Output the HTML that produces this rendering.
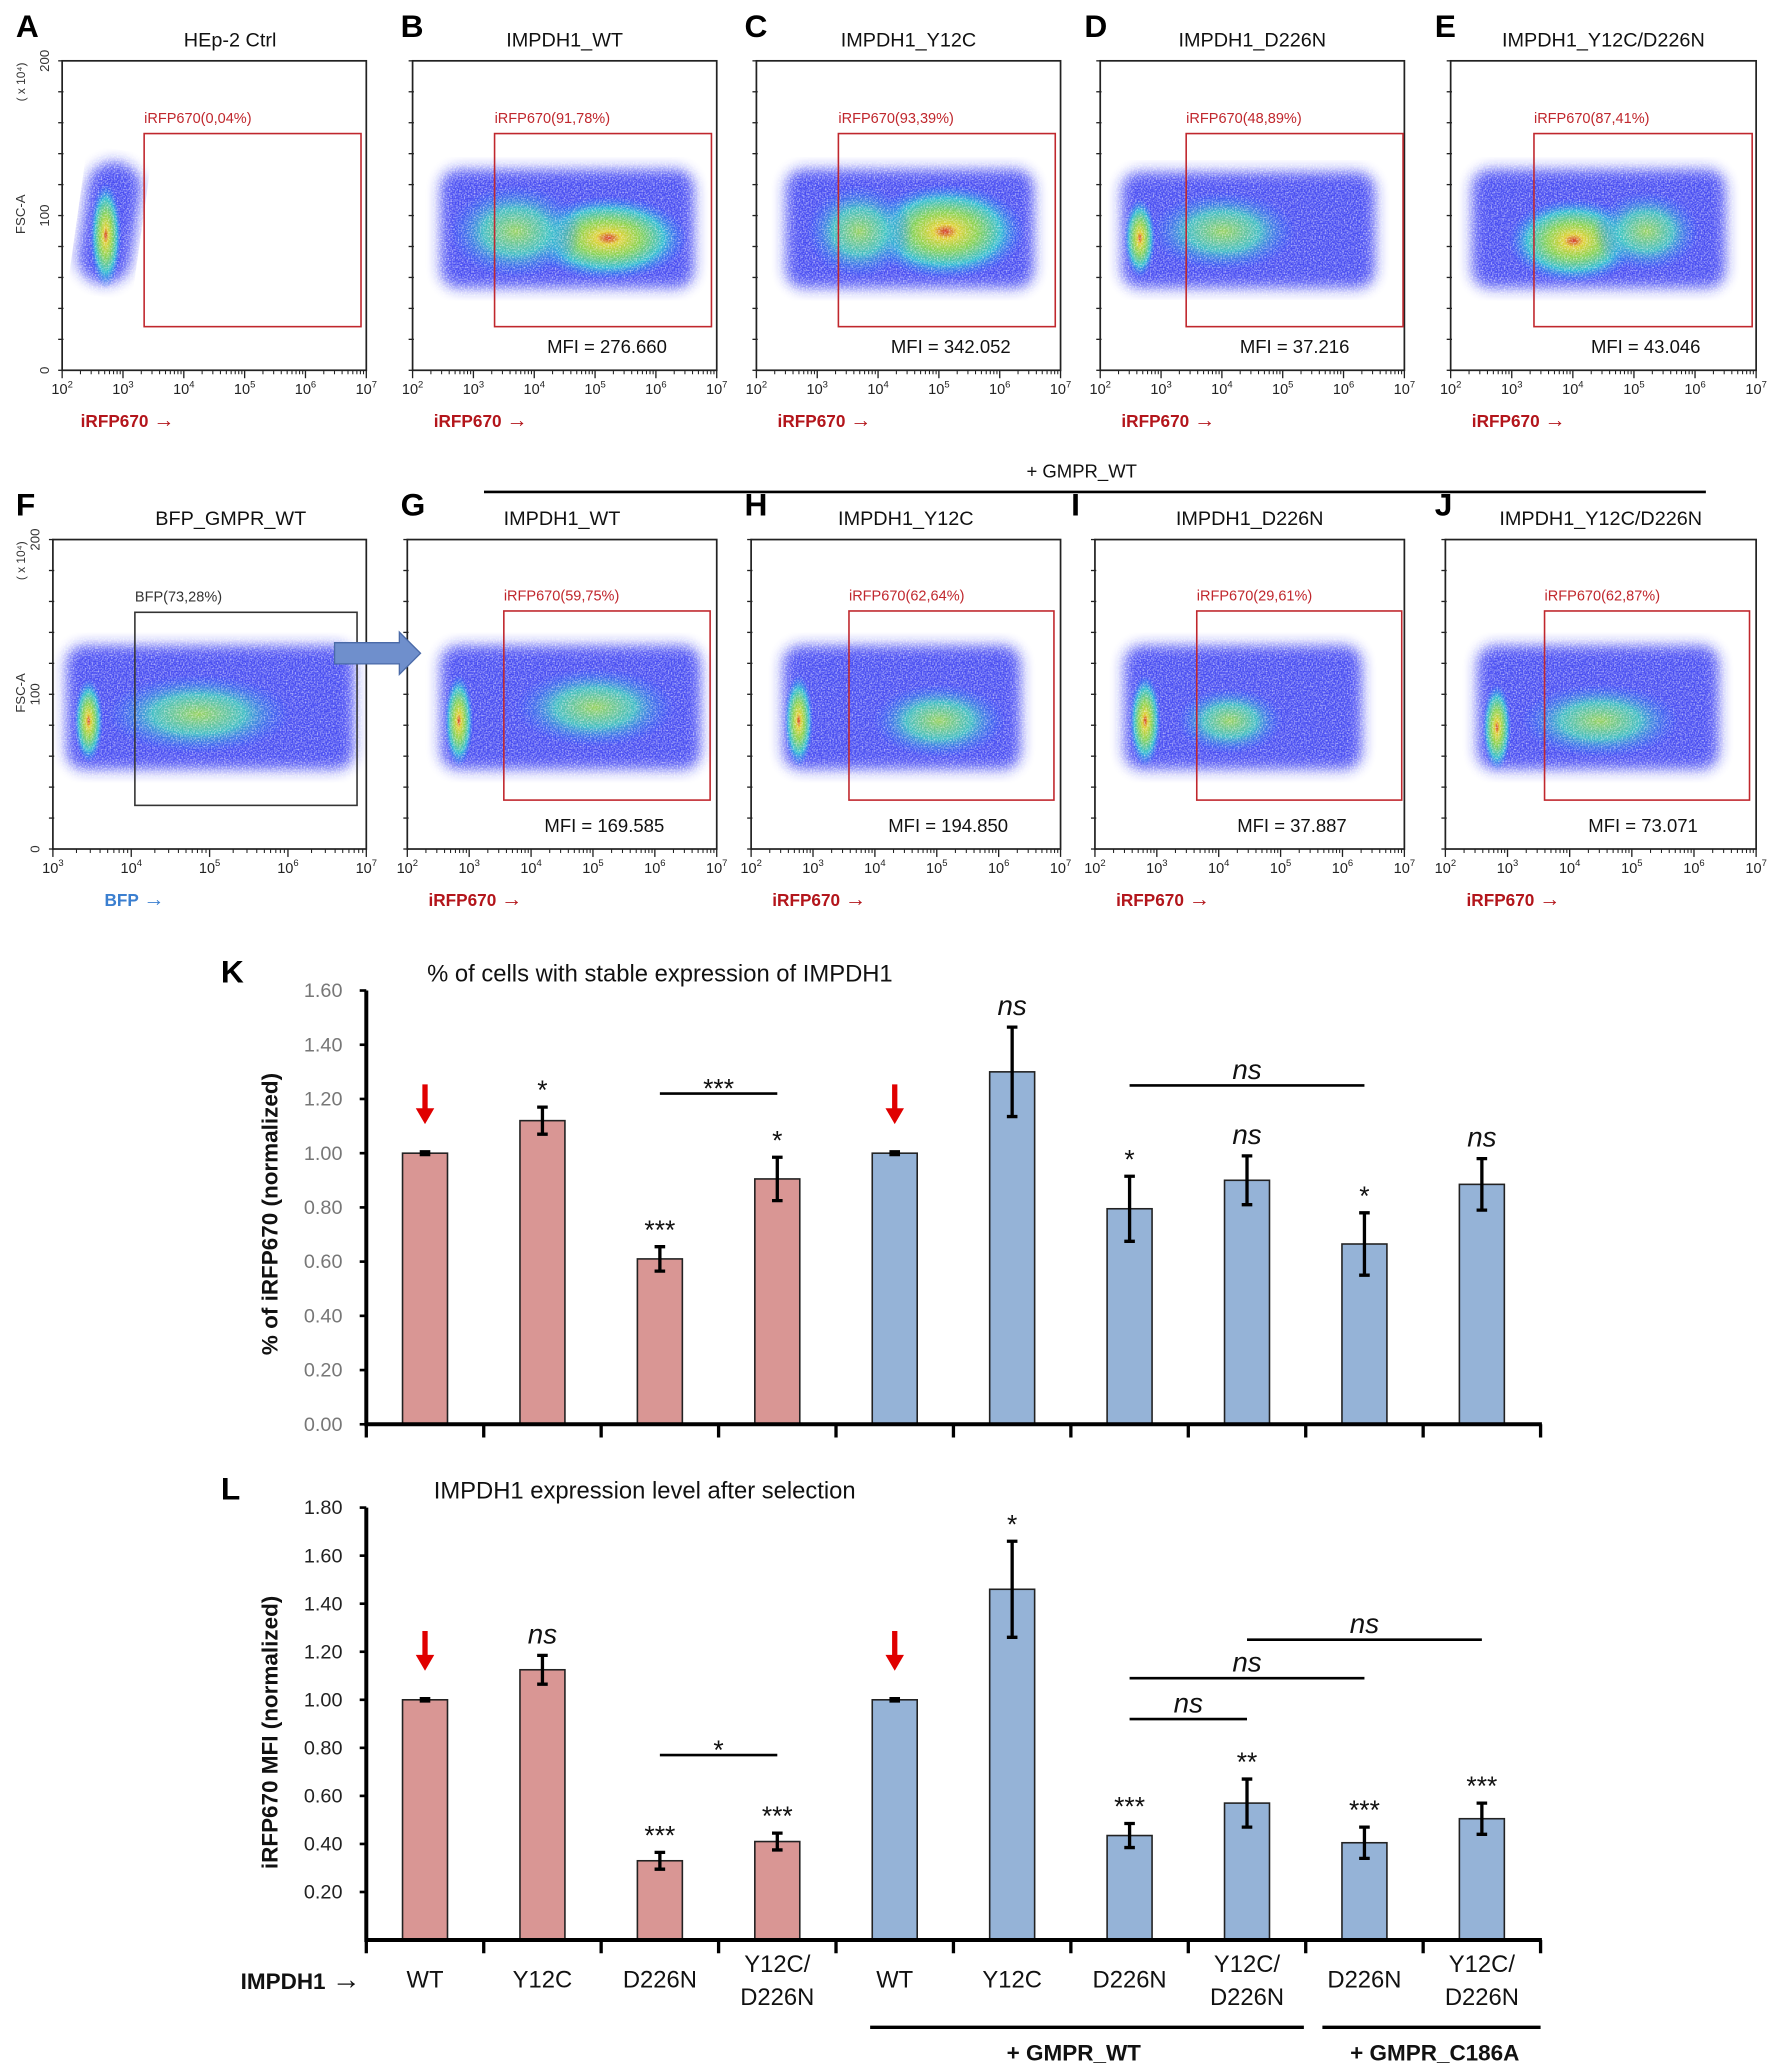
<!DOCTYPE html>
<html><head><meta charset="utf-8"><style>
html,body{margin:0;padding:0;background:#fff;}
svg{display:block;font-family:"Liberation Sans",sans-serif;}
</style></head><body>
<svg id="fig" width="1772" height="2067" viewBox="0 0 1340 1563" preserveAspectRatio="none" xmlns="http://www.w3.org/2000/svg">
<defs>
<radialGradient id="core" cx="50%" cy="50%" r="50%">
<stop offset="0" stop-color="#e03010"/><stop offset="0.15" stop-color="#f0e020"/><stop offset="0.4" stop-color="#90e040"/><stop offset="0.7" stop-color="#30c8d0"/><stop offset="1" stop-color="#2060ff" stop-opacity="0"/>
</radialGradient>
<radialGradient id="mild" cx="50%" cy="50%" r="50%">
<stop offset="0" stop-color="#a0e050"/><stop offset="0.5" stop-color="#40c8c0"/><stop offset="1" stop-color="#2060ff" stop-opacity="0"/>
</radialGradient>
<filter id="blur"><feGaussianBlur stdDeviation="5"/></filter>
<filter id="speck"><feTurbulence type="fractalNoise" baseFrequency="0.9" numOctaves="1" result="n"/><feColorMatrix in="n" type="matrix" values="0 0 0 0 1  0 0 0 0 1  0 0 0 0 1  0 0 0 -2.2 1.3" result="m"/><feComposite in="m" in2="SourceGraphic" operator="in"/></filter>
</defs>
</svg>
<script>
const NS='http://www.w3.org/2000/svg';
const svg=document.getElementById('fig');
function mk(tag,attrs,parent,text){const e=document.createElementNS(NS,tag);for(const k in attrs)e.setAttribute(k,attrs[k]);if(text!==undefined)e.textContent=text;(parent||svg).appendChild(e);return e;}

// ---------- Flow panels ----------
const panelLetters=['A','B','C','D','E','F','G','H','I','J'];
const panelTitles=['HEp-2 Ctrl','IMPDH1_WT','IMPDH1_Y12C','IMPDH1_D226N','IMPDH1_Y12C/D226N','BFP_GMPR_WT','IMPDH1_WT','IMPDH1_Y12C','IMPDH1_D226N','IMPDH1_Y12C/D226N'];
const gateLabels=['iRFP670(0,04%)','iRFP670(91,78%)','iRFP670(93,39%)','iRFP670(48,89%)','iRFP670(87,41%)','BFP(73,28%)','iRFP670(59,75%)','iRFP670(62,64%)','iRFP670(29,61%)','iRFP670(62,87%)'];
const mfiLabels=['','MFI = 276.660','MFI = 342.052','MFI = 37.216','MFI = 43.046','','MFI = 169.585','MFI = 194.850','MFI = 37.887','MFI = 73.071'];
const frames=[[47,46,277,280],[312,46,542,280],[572,46,802,280],[832,46,1062,280],[1097,46,1328,280],[40,408,277,642],[308,408,542,642],[568,408,802,642],[828,408,1062,642],[1093,408,1328,642]];
const letterX=[12,303,563,820,1085,12,303,563,810,1085];
const gates=[[109,101,273,247],[374,101,538,247],[634,101,798,247],[897,101,1061,247],[1160,101,1325,247],[102,463,270,609],[381,462,537,605],[642,462,797,605],[905,462,1060,605],[1168,462,1323,605]];
const blobs=[
 [[62,122,103,215],[[80,178,12,40,'core']]],
 [[333,128,525,218],[[460,180,60,32,'core'],[390,175,50,35,'mild']]],
 [[594,128,782,218],[[715,175,60,36,'core'],[650,175,40,35,'mild']]],
 [[848,130,1040,218],[[862,180,12,30,'core'],[925,175,55,30,'mild']]],
 [[1113,128,1305,218],[[1190,182,50,32,'core'],[1245,175,40,30,'mild']]],
 [[50,488,268,582],[[67,545,11,32,'core'],[150,540,70,30,'mild']]],
 [[333,488,530,582],[[347,545,11,35,'core'],[450,535,60,30,'mild']]],
 [[592,488,772,582],[[604,545,11,35,'core'],[710,545,50,28,'mild']]],
 [[850,488,1030,582],[[866,545,12,35,'core'],[930,545,40,25,'mild']]],
 [[1117,488,1300,582],[[1132,550,11,33,'core'],[1210,545,60,28,'mild']]]
];
function sup(g,x,y,base,exp,fs,name){const t=mk('text',{x:x,y:y,'font-size':fs,'text-anchor':'middle',fill:'#222'},g);
 mk('tspan',{},t,base);mk('tspan',{dy:-5,'font-size':fs*0.65},t,exp);return t;}

for(let i=0;i<10;i++){
 const g=mk('g',{});
 
 
 const [x1,y1,x2,y2]=frames[i];
 const L=mk('text',{x:letterX[i],y:y1-18,'font-size':24,'font-weight':'bold',fill:'#000'},g,panelLetters[i]);
 
 
 const T=mk('text',{x:(x1+x2)/2+(i==0?12:i==5?16:0),y:y1-11,'font-size':15,'text-anchor':'middle',fill:'#111'},g,panelTitles[i]);
 
 
 const b=blobs[i];const [bx1,by1,bx2,by2]=b[0];
 const base=mk('rect',{x:bx1,y:by1,width:bx2-bx1,height:by2-by1,rx:(i==0?20:14),fill:'#1a22f0',filter:'url(#blur)',opacity:0.8},g);
 if(i==0){base.setAttribute('transform','rotate(8 82 170)');}
 
 
 for(const c of b[1]){const e=mk('ellipse',{cx:c[0],cy:c[1],rx:c[2],ry:c[3],fill:'url(#'+c[4]+')',opacity:0.9},g);
  
  }
 const sp=mk('rect',{x:bx1-6,y:by1-6,width:bx2-bx1+12,height:by2-by1+12,fill:'#fff',filter:'url(#speck)',opacity:0.7},g);
 
 
 const f=mk('rect',{x:x1,y:y1,width:x2-x1,height:y2-y1,fill:'none',stroke:'#222','stroke-width':1.3},g);
 
 
 for(let k=0;k<=10;k++){const yy=y2-(y2-y1)*k/10;mk('line',{x1:x1-3,x2:x1+1,y1:yy,y2:yy,stroke:'#222','stroke-width':1},g);}
 const decs=(i==5)?4:5;
 for(let d=0;d<=decs;d++){const xx=x1+(x2-x1)*d/decs;mk('line',{x1:xx,x2:xx,y1:y2,y2:y2+6,stroke:'#222','stroke-width':1},g);
  sup(g,xx,y2+18,'10',String((i==5?3:2)+d),11,'x-tick-label');
  if(d<decs){for(let m=2;m<10;m++){const mx=xx+(x2-x1)/decs*Math.log10(m);mk('line',{x1:mx,x2:mx,y1:y2,y2:y2+3,stroke:'#222','stroke-width':0.8},g);}}}
 if(i==0||i==5){
  const labs=['0','100','200'];
  for(let k=0;k<3;k++){const yy=y2-(y2-y1)*k/2;const t=mk('text',{x:0,y:0,'font-size':10,'text-anchor':'middle',fill:'#333',transform:'translate('+(x1-10)+','+yy+') rotate(-90)'},g,labs[k]);
   
   }
  const yl=mk('text',{x:0,y:0,'font-size':10,'text-anchor':'middle',fill:'#333',transform:'translate(19,'+(y1+116)+') rotate(-90)'},g,'FSC-A');
  
  
  const ys=mk('text',{x:0,y:0,'font-size':9,'text-anchor':'middle',fill:'#333',transform:'translate(19,'+(y1+16)+') rotate(-90)'},g,'( x 10⁴)');
  
  
 }
 const [gx1,gy1,gx2,gy2]=gates[i];const gc=(i==5)?'#333':'#c0272d';
 const gr=mk('rect',{x:gx1,y:gy1,width:gx2-gx1,height:gy2-gy1,fill:'none',stroke:gc,'stroke-width':1.2},g);
 
 
 const gl=mk('text',{x:gx1,y:gy1-8,'font-size':11,fill:gc},g,gateLabels[i]);
 
 
 if(mfiLabels[i]){const m=mk('text',{x:(x1+x2)/2+32,y:y2-13,'font-size':14,'text-anchor':'middle',fill:'#111'},g,mfiLabels[i]);
  
  }
 const xl=mk('text',{x:(i==5?79:x1+8+(i==0?6:8)),y:y2+43,'font-size':13,'font-weight':'bold',fill:(i==5?'#3b7fd0':'#b3151b')},g);
 
 
 mk('tspan',{},xl,(i==5?'BFP ':'iRFP670 '));
 mk('tspan',{'font-size':16},xl,'→');
}
const hl=mk('line',{x1:366,x2:1290,y1:372,y2:372,stroke:'#000','stroke-width':2});


const ht=mk('text',{x:818,y:361,'font-size':14,'text-anchor':'middle',fill:'#111'},undefined,'+ GMPR_WT');


const ar=mk('polygon',{points:'253,486 302,486 302,478 318,494 302,510 302,502 253,502',fill:'#6f8fcc',stroke:'#4a6aa8','stroke-width':1});



// ---------- Bar charts ----------
const categories=['WT','Y12C','D226N','Y12C/D226N','WT','Y12C','D226N','Y12C/D226N','D226N','Y12C/D226N'];
const kValues=[1.00,1.12,0.61,0.905,1.00,1.30,0.795,0.90,0.665,0.885];
const kErrors=[0.005,0.05,0.045,0.08,0.005,0.165,0.12,0.09,0.115,0.095];
const kStars=['','*','***','*','','ns','*','ns','*','ns'];
const kTicks=[0,0.2,0.4,0.6,0.8,1.0,1.2,1.4,1.6];
const lValues=[1.00,1.125,0.33,0.41,1.00,1.46,0.435,0.57,0.405,0.505];
const lErrors=[0.005,0.06,0.035,0.035,0.005,0.2,0.05,0.1,0.065,0.065];
const lStars=['','ns','***','***','','*','***','**','***','***'];
const lTicks=[0.2,0.4,0.6,0.8,1.0,1.2,1.4,1.6,1.8];
const kBrackets=[[2,3,1.22,'***'],[6,8,1.25,'ns']];
const lBrackets=[[2,3,0.77,'*'],[6,7,0.92,'ns'],[6,8,1.09,'ns'],[7,9,1.25,'ns']];
const redArrows=[0,4];

function chart(opt){
 const g=mk('g',{});
 
 
 const x0=277,x1=1165,n=opt.values.length,step=(x1-x0)/n;
 const X=i=>x0+step*(i+0.5);
 const Y=v=>opt.y0-(opt.y0-opt.ytop)*v/opt.vmax;
 const lt=mk('text',{x:167,y:opt.ytop-6,'font-size':24,'font-weight':'bold',fill:'#000'},g,opt.letter);
 
 
 const tt=mk('text',{x:opt.titleX,y:opt.ytop-7,'font-size':18,fill:'#111'},g,opt.title);
 
 
 for(const v of opt.ticks){const t=mk('text',{x:259,y:Y(v)+5,'font-size':15,'text-anchor':'end',fill:opt.tickColor},g,v.toFixed(2));
  
  
  mk('line',{x1:272,x2:277,y1:Y(v),y2:Y(v),stroke:'#000','stroke-width':2},g);}
 const yt=mk('text',{x:0,y:0,'font-size':17,'font-weight':'bold','text-anchor':'middle',fill:'#111',transform:'translate(210,'+opt.ylabY+') rotate(-90)'},g,opt.ylab);
 
 
 for(let i=0;i<n;i++){
  const c=i<4?'#d99694':'#95b3d7';
  const r=mk('rect',{x:X(i)-17,y:Y(opt.values[i]),width:34,height:opt.y0-Y(opt.values[i]),fill:c,stroke:'#222','stroke-width':1.2},g);
  
  
  const hi=Y(opt.values[i]+opt.errors[i]),lo=Y(opt.values[i]-opt.errors[i]);
  const eb=mk('path',{d:'M'+X(i)+','+hi+'V'+lo+'M'+(X(i)-4)+','+hi+'H'+(X(i)+4)+'M'+(X(i)-4)+','+lo+'H'+(X(i)+4),stroke:'#000','stroke-width':2.5,fill:'none'},g);
  
  
  const s=opt.stars[i];
  if(s){const isNs=s=='ns';const st=mk('text',{x:X(i),y:hi-(isNs?9:6),'font-size':isNs?21:20,'font-style':isNs?'italic':'normal','text-anchor':'middle',fill:'#111'},g,s);
   
   }
 }
 for(const a of redArrows){const top=Y(opt.values[a])-opt.arrowOff;
  const ra=mk('path',{d:'M'+(X(a)-2)+','+top+'h4v18h5l-7,12l-7,-12h5z',fill:'#e00000'},g);
  
  }
 for(const br of opt.brackets){const y=Y(br[2]);
  const l=mk('line',{x1:X(br[0]),x2:X(br[1]),y1:y,y2:y,stroke:'#000','stroke-width':2},g);
  
  
  const isNs=br[3]=='ns';
  const t=mk('text',{x:(X(br[0])+X(br[1]))/2,y:y-(isNs?5:-3),'font-size':isNs?21:20,'font-style':isNs?'italic':'normal','text-anchor':'middle',fill:'#111'},g,br[3]);
  
  }
 const ax=mk('path',{d:'M277,'+opt.ytop+'V'+opt.y0+'H1166',stroke:'#000','stroke-width':3,fill:'none'},g);
 
 
 for(let i=0;i<=n;i++)mk('line',{x1:x0+step*i,x2:x0+step*i,y1:opt.y0,y2:opt.y0+10,stroke:'#000','stroke-width':2.5},g);
 return X;
}
chart({name:'chart-k',letter:'K',title:'% of cells with stable expression of IMPDH1',titleX:323,values:kValues,errors:kErrors,stars:kStars,ticks:kTicks,vmax:1.6,y0:1077,ytop:749,ylab:'% of iRFP670 (normalized)',ylabY:918,brackets:kBrackets,tickColor:'#777',arrowOff:52});
const X=chart({name:'chart-l',letter:'L',title:'IMPDH1 expression level after selection',titleX:328,values:lValues,errors:lErrors,stars:lStars,ticks:lTicks,vmax:1.8,y0:1467,ytop:1140,ylab:'iRFP670 MFI (normalized)',ylabY:1310,brackets:lBrackets,tickColor:'#222',arrowOff:52});
for(let i=0;i<categories.length;i++){
 const c=categories[i];const parts=c.includes('/')?['Y12C/','D226N']:[c];
 const t=mk('text',{x:X(i),y:parts.length>1?1491:1503,'font-size':18,'text-anchor':'middle',fill:'#111'});
 
 
 parts.forEach((p,k)=>mk('tspan',{x:X(i),dy:k?25:0},t,p));
}
const il=mk('text',{x:182,y:1504,'font-size':17,'font-weight':'bold',fill:'#111'});


mk('tspan',{},il,'IMPDH1 ');
mk('tspan',{'font-size':22},il,'→');
const g1=mk('line',{x1:658,x2:986,y1:1533,y2:1533,stroke:'#000','stroke-width':2.5});


const g2=mk('line',{x1:1000,x2:1165,y1:1533,y2:1533,stroke:'#000','stroke-width':2.5});


const t1=mk('text',{x:812,y:1558,'font-size':17,'font-weight':'bold','text-anchor':'middle',fill:'#111'},undefined,'+ GMPR_WT');


const t2=mk('text',{x:1085,y:1558,'font-size':17,'font-weight':'bold','text-anchor':'middle',fill:'#111'},undefined,'+ GMPR_C186A');


</script>
</body></html>
